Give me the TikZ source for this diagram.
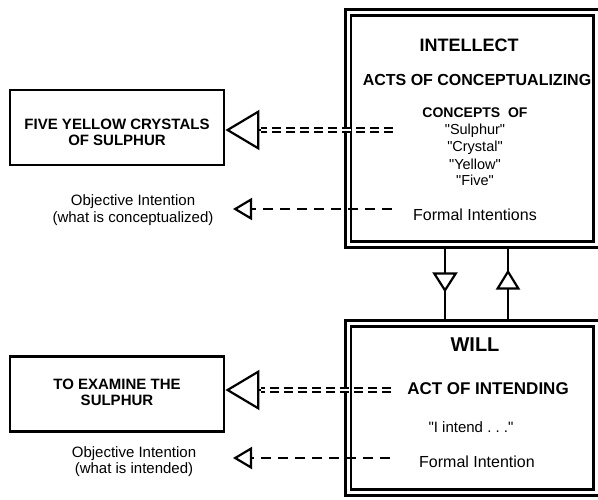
\documentclass[tikz,border=0pt]{standalone}
\usepackage{fontspec}
\setmainfont{Liberation Sans}
\usetikzlibrary{arrows.meta,decorations.markings}

\begin{document}
\begin{tikzpicture}[x=1pt,y=-1pt,
  dbox/.style={draw,line width=2.8pt,double=white,double distance=3pt,inner sep=0pt},
  sbox/.style={draw,line width=2.8pt,inner sep=0pt,minimum width=214pt,minimum height=75pt},
  boxtext/.style={inner sep=0pt,align=center,font=\fontsize{15}{16}\selectfont\bfseries},
  bf/.style={inner sep=0pt,font=\fontsize{#1}{#1}\selectfont\bfseries},
  rm/.style={inner sep=0pt,font=\fontsize{#1}{#1}\selectfont},
  two/.style={inner sep=0pt,align=center,font=\fontsize{15}{16.5}\selectfont},
  ddash/.style={line width=2pt,double=white,double distance=1.8pt,dash pattern=on 9pt off 5pt},
  bigtri/.style={line width=2.2pt,-{Triangle[length=34pt,width=40pt,fill=white]}},
  sdash/.style={line width=2pt,dash pattern=on 10pt off 7pt,-{Triangle[length=19pt,width=22pt,fill=white,line width=2.2pt]}},
  downtri/.style={line width=2.2pt,postaction={decorate},decoration={markings,
    mark=at position 0.61 with {\arrow{Triangle[length=20pt,width=25pt,fill=white]}}}},
  uptri/.style={line width=2.2pt,postaction={decorate},decoration={markings,
    mark=at position 0.69 with {\arrow{Triangle[length=20pt,width=24pt,fill=white]}}}}]
  \useasboundingbox (0,0) rectangle (598,499);
  \node[dbox,minimum width=248pt,minimum height=232pt](int) at (472,128.5){};
  \node[dbox,minimum width=248pt,minimum height=169pt](will) at (472,408){};
  \node[sbox](five) at (117,127.5){};
  \node[boxtext](fivet) at (117,132){FIVE YELLOW CRYSTALS\\OF SULPHUR};
  \node[sbox](exam) at (117,394){};
  \node[boxtext](examt) at (117,392){TO EXAMINE THE\\SULPHUR};
  \node[bf=18](intl) at (469,45){INTELLECT};
  \node[bf=16](acts) at (477,80){ACTS OF CONCEPTUALIZING};
  \node[bf=14](conc) at (475,113){CONCEPTS\ \ OF};
  \node[rm=14.5](sul) at (475,131){\textquotedbl Sulphur\textquotedbl};
  \node[rm=14.5](cry) at (475,147.5){\textquotedbl Crystal\textquotedbl};
  \node[rm=14.5](yel) at (475,164){\textquotedbl Yellow\textquotedbl};
  \node[rm=14.5](fiv) at (475,180){\textquotedbl Five\textquotedbl};
  \node[rm=16](form1) at (475,215){Formal Intentions};
  \node[two](obj1) at (133,210){Objective Intention\\(what is conceptualized)};
  \node[bf=20](wil) at (475,345){WILL};
  \node[bf=17](aoi) at (488,389){ACT OF INTENDING};
  \node[rm=15](intd) at (471,427){\textquotedbl I intend .\ .\ .\textquotedbl};
  \node[rm=16](form2) at (477,462){Formal Intention};
  \node[two](obj2) at (134,461.5){Objective Intention\\(what is intended)};
  \coordinate(d1) at (393,130);
  \coordinate(b1) at (261,130);
  \coordinate(d2) at (391,390);
  \coordinate(b2) at (261,390);
  \coordinate(s1) at (392,209);
  \coordinate(p1) at (233,209);
  \coordinate(s2) at (390,458);
  \coordinate(p2) at (233,458);
  \coordinate(v1) at (445,0);
  \coordinate(v2) at (508,0);
  \draw[ddash](d1)--(b1);
  \draw[bigtri](b1)--(five.east|-b1);
  \draw[ddash](d2)--(b2);
  \draw[bigtri](b2)--(exam.east|-b2);
  \draw[sdash](s1)--(p1);
  \draw[sdash](s2)--(p2);
  \draw[downtri](int.south-|v1)--(will.north-|v1);
  \draw[uptri](will.north-|v2)--(int.south-|v2);
\end{tikzpicture}
\end{document}
